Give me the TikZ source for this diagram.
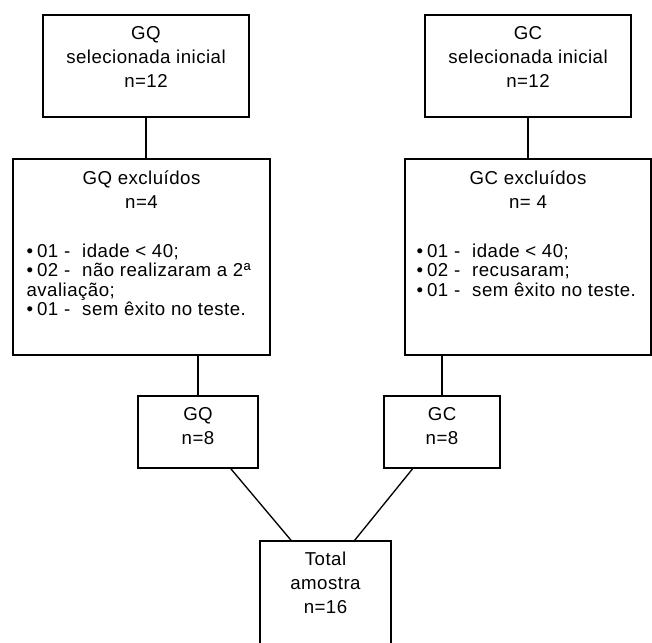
\documentclass[tikz,border=0pt]{standalone}
\usepackage{fontspec}
\setmainfont{Liberation Sans}[LetterSpace=2.5]
\usetikzlibrary{positioning,calc}

\begin{document}
\begin{tikzpicture}[x=0.75pt, y=-0.75pt,
    box/.style={draw, line width=1pt, inner sep=0pt},
    head/.style={anchor=north, align=center, inner sep=0pt, font=\fontsize{14}{18}\selectfont},
    items/.style={anchor=north west, align=left, inner sep=0pt, font=\fontsize{14}{14.6}\selectfont}]
    \useasboundingbox (0,0) rectangle (652,642);
    \clip (0,0) rectangle (652,642);
    % top row
    \node[box, minimum width=154.5pt, minimum height=76.5pt] (gqsel) at (146,66) {};
    \node[box, minimum width=154.5pt, minimum height=76.5pt] (gcsel) at (528,66) {};
    \node[head] (gqselt) at ($(gqsel.north)+(0,12)$) {GQ\\selecionada inicial\\n=12};
    \node[head] (gcselt) at ($(gcsel.north)+(0,12)$) {GC\\selecionada inicial\\n=12};
    % excluded
    \node[box, minimum width=192.75pt, minimum height=147pt] (gqexc) at (141.5,257) {};
    \node[box, minimum width=184.5pt, minimum height=147pt] (gcexc) at (528,257) {};
    \node[head] (gqexct) at ($(gqexc.north)+(0,12)$) {GQ excluídos\\n=4};
    \node[head] (gcexct) at ($(gcexc.north)+(0,12)$) {GC excluídos\\n= 4};
    \node[items] (gqlist) at ($(gqexc.north west)+(14,85)$)
        {•\hspace{3pt}01 -\hspace{9pt}idade < 40;\\
         •\hspace{3pt}02 -\hspace{9pt}não realizaram a 2ª\\
         avaliação;\\
         •\hspace{3pt}01 -\hspace{9pt}sem êxito no teste.};
    \node[items] (gclist) at ($(gcexc.north west)+(12,85)$)
        {•\hspace{3pt}01 -\hspace{9pt}idade < 40;\\
         •\hspace{3pt}02 -\hspace{9pt}recusaram;\\
         •\hspace{3pt}01 -\hspace{9pt}sem êxito no teste.};
    % final groups
    \node[box, minimum width=90pt, minimum height=54pt] (gqn) at (198,432) {};
    \node[box, minimum width=87pt, minimum height=54pt] (gcn) at (442,432) {};
    \node[head] (gqnt) at ($(gqn.north)+(0,12)$) {GQ\\n=8};
    \node[head] (gcnt) at ($(gcn.north)+(0,12)$) {GC\\n=8};
    \node[box, minimum width=98.25pt, minimum height=96.75pt] (total) at (325.5,605.5) {};
    \node[head] (totalt) at ($(total.north)+(0,11)$) {Total\\amostra\\n=16};
    % connectors
    \draw[line width=1pt] (gqsel.south) -- (gqsel.south |- gqexc.north);
    \draw[line width=1pt] (gcsel.south) -- (gcsel.south |- gcexc.north);
    \draw[line width=1pt] (gqn.north |- gqexc.south) -- (gqn.north);
    \draw[line width=1pt] (gcn.north |- gcexc.south) -- (gcn.north);
    \draw[line width=1pt] ($(gqn.south west)!0.77!(gqn.south east)$) -- ($(total.north west)!0.24!(total.north east)$);
    \draw[line width=1pt] ($(gcn.south west)!0.25!(gcn.south east)$) -- ($(total.north west)!0.72!(total.north east)$);
\end{tikzpicture}
\end{document}
